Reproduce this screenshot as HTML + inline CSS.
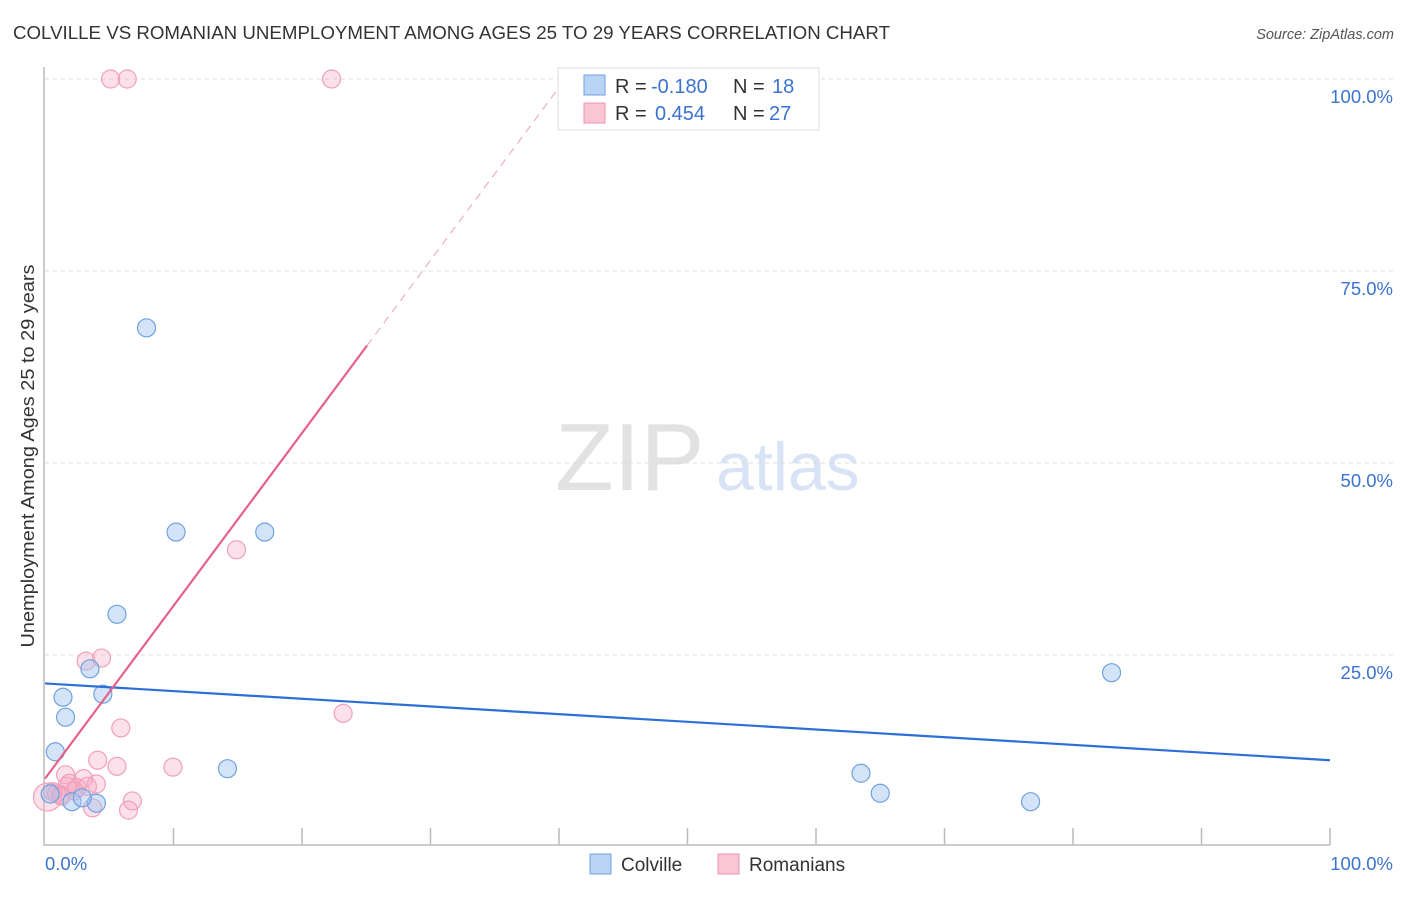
<!DOCTYPE html>
<html><head><meta charset="utf-8">
<style>
body{margin:0;background:#fff;font-family:"Liberation Sans",sans-serif;}
svg text{font-family:"Liberation Sans",sans-serif;}
</style></head>
<body>
<svg id="chart" width="1406" height="892" xmlns="http://www.w3.org/2000/svg">
<text x="13" y="39" font-size="18" fill="#333" textLength="877" lengthAdjust="spacingAndGlyphs">COLVILLE VS ROMANIAN UNEMPLOYMENT AMONG AGES 25 TO 29 YEARS CORRELATION CHART</text>
<text x="1394" y="39" font-size="14.5" fill="#555" text-anchor="end" font-style="italic">Source: ZipAtlas.com</text>
<text transform="translate(34,456) rotate(-90)" font-size="18" fill="#333" text-anchor="middle" textLength="383" lengthAdjust="spacingAndGlyphs">Unemployment Among Ages 25 to 29 years</text>
<g>
<text x="555" y="490" font-size="96" fill="#e2e2e2" font-family="Liberation Serif,serif">ZIP</text>
<text x="716" y="490" font-size="68" fill="#d8e4f5">atlas</text>
</g>
<g id="grid"></g>
<g id="marks"></g>
<g>
<rect x="558" y="68" width="261" height="62" fill="#fff" stroke="#ddd"/>
<rect x="584" y="75" width="21" height="20" fill="#b9d3f5" stroke="#6fa1e0"/>
<rect x="584" y="103" width="21" height="20" fill="#f9c6d5" stroke="#ee93ad"/>
<text x="615" y="93" font-size="20" fill="#333">R =</text><text x="651" y="93" font-size="20" fill="#3b73d1">-0.180</text>
<text x="733" y="93" font-size="20" fill="#333">N =</text><text x="772" y="93" font-size="20" fill="#3b73d1">18</text>
<text x="615" y="120" font-size="20" fill="#333">R =</text><text x="655" y="120" font-size="20" fill="#3b73d1">0.454</text>
<text x="733" y="120" font-size="20" fill="#333">N =</text><text x="769" y="120" font-size="20" fill="#3b73d1">27</text>
</g>
<g>
<rect x="590" y="854" width="21" height="20" fill="#b9d3f5" stroke="#6fa1e0"/>
<text x="621" y="871" font-size="19" fill="#333">Colville</text>
<rect x="718" y="854" width="21" height="20" fill="#f9c6d5" stroke="#ee93ad"/>
<text x="749" y="871" font-size="19" fill="#333">Romanians</text>
</g>
</svg>
<script>
const yTicks=[25,50,75,100];
const yTickLabels=["25.0%","50.0%","75.0%","100.0%"];
const xTickLabels=["0.0%","100.0%"];
const colvilleX=[7.9,10.2,17.1,5.6,3.5,4.5,1.4,1.6,0.8,14.2,63.5,65.0,76.7,83.0,4.0,2.1,2.9,0.4];
const colvilleY=[67.6,41.0,41.0,30.3,23.2,19.9,19.5,16.9,12.4,10.2,9.6,7.0,5.9,22.7,5.7,5.9,6.4,6.9];
const romX=[5.1,6.4,22.3,14.9,3.2,4.4,23.2,5.9,4.1,5.6,9.96,1.6,3.0,4.0,1.9,2.5,0.6,1.2,0.2,6.8,6.5,3.7,2.3,1.7,0.9,3.3,1.3];
const romY=[100,100,100,38.7,24.2,24.6,17.4,15.5,11.3,10.5,10.4,9.4,8.9,8.2,8.3,7.7,7.2,6.8,6.5,6.0,4.8,5.1,7.3,7.9,7.0,7.9,6.6];
const colTrend=[21.3,11.3];
const romIntercept=8.9, romSlope=2.25, romSolidEnd=25.06;
const X0=45,X1=1330,Y0=847,Y1=79;
const sx=v=>X0+(X1-X0)*v/100, sy=v=>Y0-(Y0-Y1)*v/100;
const NS="http://www.w3.org/2000/svg";
function mk(t,a,p){const e=document.createElementNS(NS,t);for(const k in a)e.setAttribute(k,a[k]);p.appendChild(e);return e;}
const grid=document.getElementById('grid'),marks=document.getElementById('marks');
yTicks.forEach((t,i)=>{
 const l=mk('line',{x1:X0,x2:1394,y1:sy(t),y2:sy(t),stroke:'#ddd','stroke-dasharray':'4,4'},grid);
 
 
 const tx=mk('text',{x:1393,y:sy(t)+24,'font-size':18.5,fill:'#3b73d1','text-anchor':'end'},grid);
 tx.textContent=yTickLabels[i];
 
 
});
const ax=mk('path',{d:`M${X0-1},67V${Y0-2}H${X1}`,stroke:'#bbb',fill:'none','stroke-width':1.5},grid);


for(let i=1;i<=10;i++){const x=sx(i*10);const t=mk('line',{x1:x,x2:x,y1:828,y2:845,stroke:'#bbb','stroke-width':1.5},grid);
 
 }
[[0,'start',45],[100,'end',1393]].forEach((d,i)=>{const t=mk('text',{x:d[2],y:870,'font-size':18.5,fill:'#3b73d1','text-anchor':d[1]},grid);t.textContent=xTickLabels[i];
 
 });
romX.forEach((x,i)=>{const c=mk('circle',{cx:sx(x),cy:sy(romY[i]),r:i==18?14:9,fill:'rgba(246,170,195,0.35)',stroke:'#f0a0b8','stroke-width':1.2},marks);
 
 });
colvilleX.forEach((x,i)=>{const c=mk('circle',{cx:sx(x),cy:sy(colvilleY[i]),r:9,fill:'rgba(160,195,240,0.45)',stroke:'#6fa1e0','stroke-width':1.2},marks);
 
 });
const bl=mk('line',{x1:sx(0),y1:sy(colTrend[0]),x2:sx(100),y2:sy(colTrend[1]),stroke:'#2c6fd6','stroke-width':2.2},marks);


const xEnd=(100-romIntercept)/romSlope;
const pl=mk('line',{x1:sx(0),y1:sy(romIntercept),x2:sx(romSolidEnd),y2:sy(romIntercept+romSlope*romSolidEnd),stroke:'#e5618a','stroke-width':2.2},marks);


const pd=mk('line',{x1:sx(romSolidEnd),y1:sy(romIntercept+romSlope*romSolidEnd),x2:sx(xEnd),y2:sy(100),stroke:'#eaa0b6','stroke-width':1,'stroke-dasharray':'8,6'},marks);


</script>
</body></html>
